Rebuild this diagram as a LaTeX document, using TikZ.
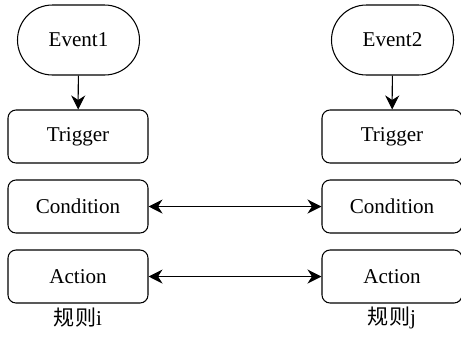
\documentclass[tikz,border=0pt]{standalone}
\usepackage{fontspec}
\setmainfont{Liberation Serif}
\newfontfamily\cjk{Noto Sans CJK SC}
\usepackage{tikz}
\usetikzlibrary{arrows.meta,shapes}
\begin{document}
\begin{tikzpicture}[>={Stealth[length=2.8mm,width=2.8mm,inset=0.9mm]},line width=0.6pt,
  event/.style={draw,rounded rectangle,minimum width=2.44cm,minimum height=1.4cm,inner sep=0pt,font=\fontsize{12}{14}\selectfont},
  part/.style={draw,rounded corners=1.6mm,minimum width=2.8cm,minimum height=1.06cm,inner sep=0pt,font=\fontsize{12}{14}\selectfont},
  rulename/.style={font=\fontsize{12}{14}\selectfont}]
\useasboundingbox (0,0) rectangle (9.22,6.74);
\node[event] (e1) at (1.57,5.94) {Event1};
\node[event] (e2) at (7.85,5.94) {Event2};
\node[part] (t1) at (1.56,4.01) {Trigger};
\node[part] (t2) at (7.84,4.01) {Trigger};
\node[part] (c1) at (1.56,2.61) {Condition};
\node[part] (c2) at (7.84,2.61) {Condition};
\node[part] (a1) at (1.56,1.21) {Action};
\node[part] (a2) at (7.84,1.21) {Action};
\node[rulename] (r1) at (1.56,0.38) {{\cjk 规则}i};
\node[rulename] (r2) at (7.84,0.38) {{\cjk 规则}j};
\draw [->] (e1) to (t1);
\draw [->] (e2) to (t2);
\draw [<->] (c1) to (c2);
\draw [<->] (a1) to (a2);
\end{tikzpicture}
\end{document}
